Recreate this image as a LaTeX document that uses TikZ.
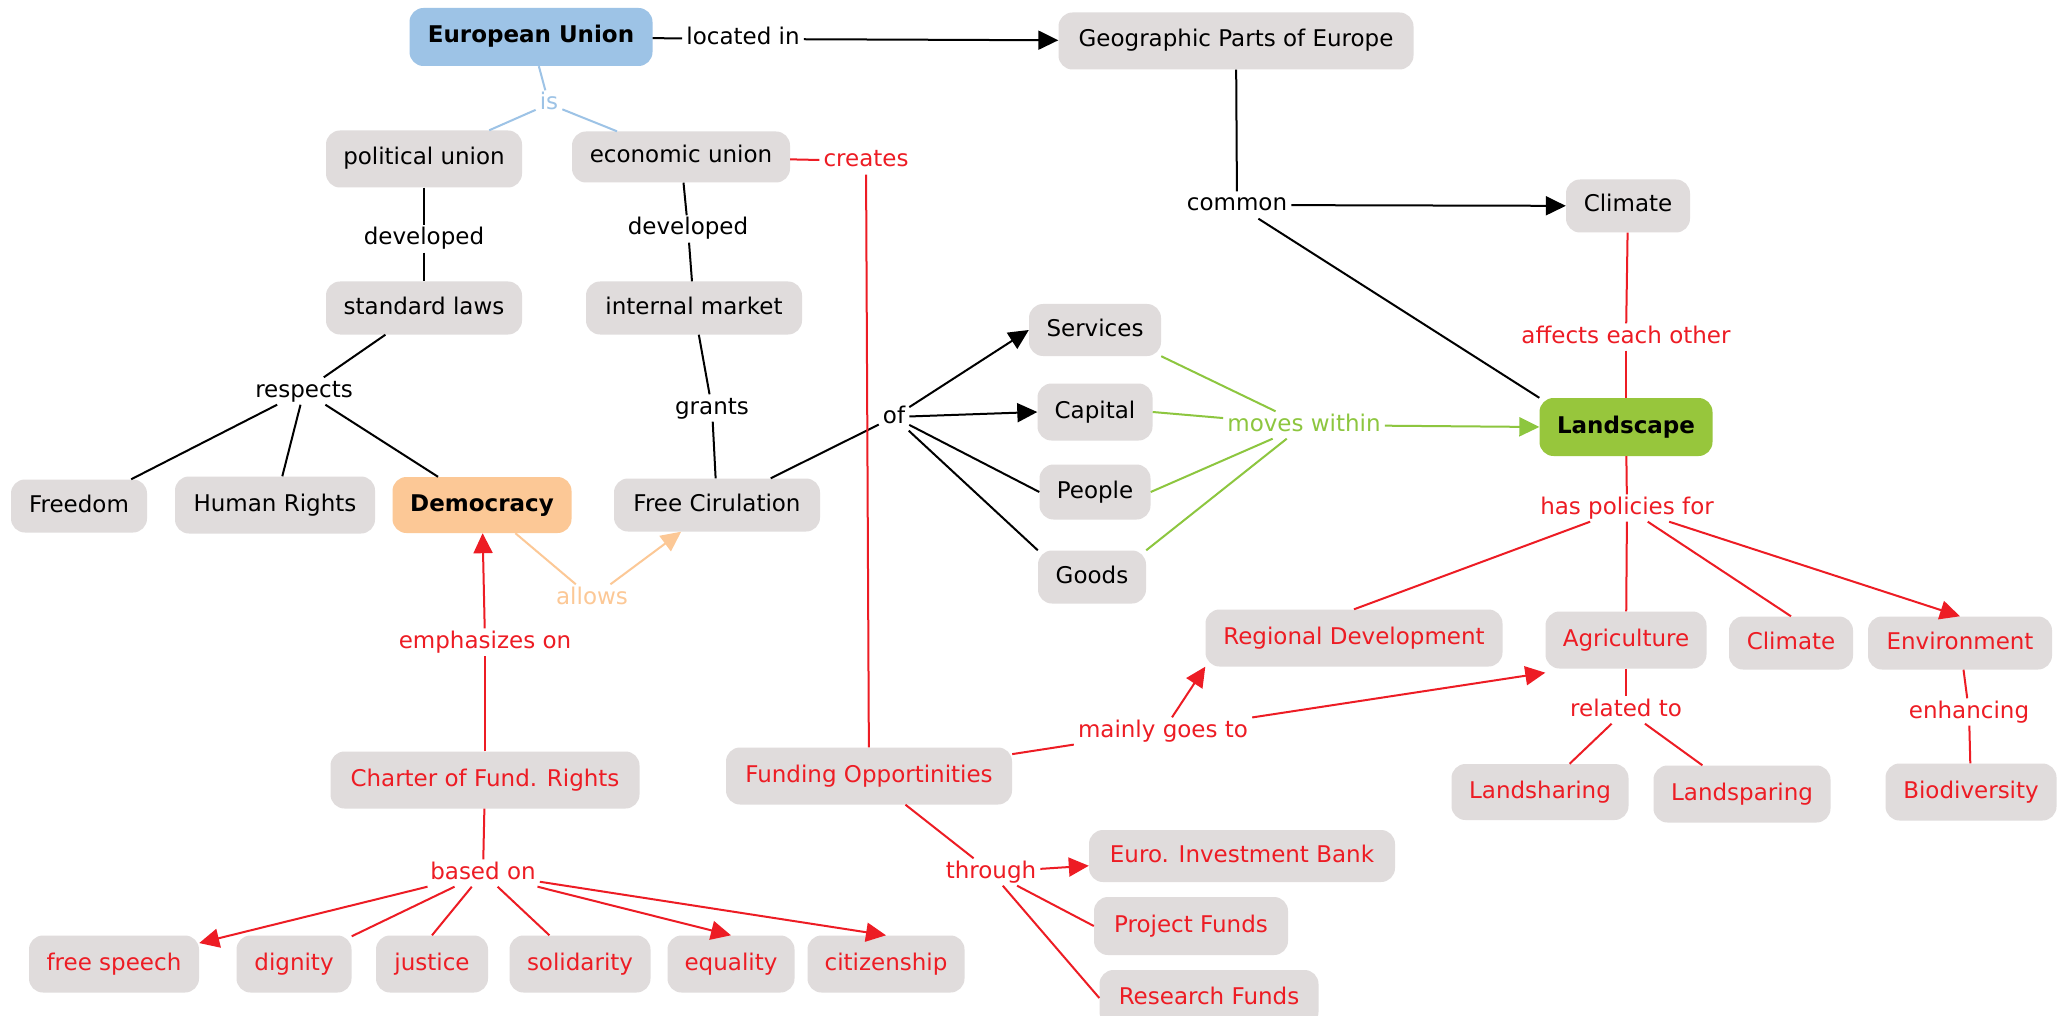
\documentclass[tikz,border=0pt]{standalone}
\usepackage{fontspec}
\setmainfont{DejaVu Sans}
\usetikzlibrary{arrows.meta}
\definecolor{cgray}{RGB}{224,220,220}
\definecolor{cblue}{RGB}{157,195,230}
\definecolor{corange}{RGB}{252,200,150}
\definecolor{cgreen}{RGB}{151,198,60}
\definecolor{lgreen}{RGB}{141,198,63}
\definecolor{cred}{RGB}{237,28,36}
\begin{document}
\begin{tikzpicture}[x=1pt,y=-1pt,
  every node/.style={font=\fontsize{23pt}{27pt}\selectfont, text height=17.5pt, text depth=5.5pt},
  concept/.style={rounded corners=14pt, fill=cgray, inner sep=0pt},
  bold/.style={font=\fontsize{23pt}{27pt}\selectfont\bfseries},
  lbl/.style={inner xsep=4pt, inner ysep=2pt},
  conn/.style={line width=2pt},
  tip/.style={-{Triangle[length=20pt,width=19pt]}},
  redc/.style={conn, draw=cred},
  blkc/.style={conn, draw=black},
]
\fill[white] (0,0) rectangle (2069,1016);
\useasboundingbox (0,0) rectangle (2069,1016);

% ---------- concepts ----------
\node[concept, bold, fill=cblue, minimum width=243pt, minimum height=58pt] (eu) at (531,37) {European Union};
\node[concept, minimum width=355pt, minimum height=57pt] (geo) at (1236,41) {Geographic Parts of Europe};
\node[concept, minimum width=196pt, minimum height=57pt] (pol) at (424,159) {political union};
\node[concept, minimum width=218pt, minimum height=51pt] (eco) at (681,157) {economic union};
\node[concept, minimum width=196pt, minimum height=53pt] (std) at (424,308) {standard laws};
\node[concept, minimum width=216pt, minimum height=53pt] (imk) at (694,308) {internal market};
\node[concept, minimum width=136pt, minimum height=53pt] (free) at (79,506) {Freedom};
\node[concept, minimum width=200pt, minimum height=57pt] (hr) at (275,505) {Human Rights};
\node[concept, bold, fill=corange, minimum width=179pt, minimum height=56pt] (dem) at (482,505) {Democracy};
\node[concept, minimum width=206pt, minimum height=53pt] (fc) at (717,505) {Free Cirulation};
\node[concept, minimum width=132pt, minimum height=52pt] (serv) at (1095,330) {Services};
\node[concept, minimum width=115pt, minimum height=57pt] (cap) at (1095,412) {Capital};
\node[concept, minimum width=111pt, minimum height=55pt] (peo) at (1095,492) {People};
\node[concept, minimum width=108pt, minimum height=53pt] (goods) at (1092,577) {Goods};
\node[concept, minimum width=124pt, minimum height=53pt] (clim) at (1628,206) {Climate};
\node[concept, bold, fill=cgreen, minimum width=173pt, minimum height=58pt] (land) at (1626,427) {Landscape};
\node[concept, text=cred, minimum width=297pt, minimum height=57pt] (reg) at (1354,638) {Regional Development};
\node[concept, text=cred, minimum width=161pt, minimum height=57pt] (agri) at (1626,640) {Agriculture};
\node[concept, text=cred, minimum width=124pt, minimum height=53pt] (clim2) at (1791,643) {Climate};
\node[concept, text=cred, minimum width=184pt, minimum height=53pt] (env) at (1960,643) {Environment};
\node[concept, text=cred, minimum width=177pt, minimum height=56pt] (lshar) at (1540,792) {Landsharing};
\node[concept, text=cred, minimum width=177pt, minimum height=57pt] (lspar) at (1742,794) {Landsparing};
\node[concept, text=cred, minimum width=171pt, minimum height=57pt] (bio) at (1971,792) {Biodiversity};
\node[concept, text=cred, minimum width=309pt, minimum height=57pt] (charter) at (485,780) {Charter of Fund. Rights};
\node[concept, text=cred, minimum width=286pt, minimum height=57pt] (fund) at (869,776) {Funding Opportinities};
\node[concept, text=cred, minimum width=306pt, minimum height=52pt] (eib) at (1242,856) {Euro. Investment Bank};
\node[concept, text=cred, minimum width=194pt, minimum height=58pt] (pf) at (1191,926) {Project Funds};
\node[concept, text=cred, minimum width=219pt, minimum height=56pt] (rf) at (1209,998) {Research Funds};
\node[concept, text=cred, minimum width=170pt, minimum height=57pt] (fs) at (114,964) {free speech};
\node[concept, text=cred, minimum width=115pt, minimum height=57pt] (dig) at (294,964) {dignity};
\node[concept, text=cred, minimum width=112pt, minimum height=57pt] (jus) at (432,964) {justice};
\node[concept, text=cred, minimum width=141pt, minimum height=57pt] (sol) at (580,964) {solidarity};
\node[concept, text=cred, minimum width=127pt, minimum height=57pt] (eq) at (731,964) {equality};
\node[concept, text=cred, minimum width=157pt, minimum height=57pt] (cit) at (886,964) {citizenship};

% ---------- linking phrases ----------
\node[lbl] (locin) at (743,39) {located in};
\node[lbl, text=cblue] (is) at (549,104) {is};
\node[lbl, text=cred] (creates) at (866,161) {creates};
\node[lbl] (dev1) at (424,239) {developed};
\node[lbl] (dev2) at (688,229) {developed};
\node[lbl] (resp) at (304,391) {respects};
\node[lbl] (grants) at (712,408) {grants};
\node[lbl] (of) at (894,417) {of};
\node[lbl] (common) at (1237,205) {common};
\node[lbl, text=lgreen] (moves) at (1304,425) {moves within};
\node[lbl, text=cred] (affects) at (1626,337) {affects each other};
\node[lbl, text=cred] (haspol) at (1627,508) {has policies for};
\node[lbl, text=corange] (allows) at (592,598) {allows};
\node[lbl, text=cred] (emph) at (485,642) {emphasizes on};
\node[lbl, text=cred] (based) at (483,873) {based on};
\node[lbl, text=cred] (mainly) at (1163,731) {mainly goes to};
\node[lbl, text=cred] (through) at (991,872) {through};
\node[lbl, text=cred] (related) at (1626,710) {related to};
\node[lbl, text=cred] (enh) at (1969,712) {enhancing};

% ---------- connectors ----------
\draw[blkc] (eu) -- (locin);
\draw[blkc, tip] (locin) -- (geo);
\draw[conn, draw=cblue] (eu) -- (is);
\draw[conn, draw=cblue] (is) -- (pol);
\draw[conn, draw=cblue] (is) -- (eco);
\draw[blkc] (pol) -- (dev1);
\draw[blkc] (dev1) -- (std);
\draw[blkc] (eco) -- (dev2);
\draw[blkc] (dev2) -- (imk);
\draw[blkc] (std) -- (resp);
\draw[blkc] (resp) -- (free);
\draw[blkc] (resp) -- (hr);
\draw[blkc] (resp) -- (dem);
\draw[blkc] (imk) -- (grants);
\draw[blkc] (grants) -- (fc);
\draw[blkc] (fc) -- (of);
\draw[blkc, tip] (of) -- (serv.west);
\draw[blkc, tip] (of) -- (cap.west);
\draw[blkc] (of) -- (peo.west);
\draw[blkc] (of) -- (goods.north west);
\draw[conn, draw=lgreen] (serv.south east) -- (moves);
\draw[conn, draw=lgreen] (cap.east) -- (moves);
\draw[conn, draw=lgreen] (peo.east) -- (moves);
\draw[conn, draw=lgreen] (goods.north east) -- (moves);
\draw[conn, draw=lgreen, tip] (moves) -- (land.west);
\draw[blkc] (geo) -- (common);
\draw[blkc, tip] (common) -- (clim);
\draw[blkc] (common) -- (land.north west);
\draw[redc] (clim) -- (affects);
\draw[redc] (affects) -- (land);
\draw[redc] (land) -- (haspol);
\draw[redc] (haspol) -- (reg.north);
\draw[redc] (haspol) -- (agri);
\draw[redc] (haspol) -- (clim2.north);
\draw[redc, tip] (haspol) -- (env.north);
\draw[redc] (agri) -- (related);
\draw[redc] (related) -- (lshar);
\draw[redc] (related) -- (lspar);
\draw[redc] (env) -- (enh);
\draw[redc] (enh) -- (bio);
\draw[conn, draw=corange] (dem) -- (allows);
\draw[conn, draw=corange, tip] (allows) -- (fc);
\draw[redc] (charter) -- (emph);
\draw[redc, tip] (emph) -- (dem);
\draw[redc] (charter) -- (based);
\draw[redc, tip] (based) -- (fs);
\draw[redc] (based) -- (dig);
\draw[redc] (based) -- (jus.north);
\draw[redc] (based) -- (sol);
\draw[redc, tip] (based) -- (eq.north);
\draw[redc, tip] (based) -- (cit.north);
\draw[redc] (eco) -- (creates);
\draw[redc] (creates) -- (fund);
\draw[redc] (fund) -- (mainly);
\draw[redc, tip] (mainly) -- (reg.south west);
\draw[redc, tip] (mainly) -- ([yshift=-4pt]agri.south west);
\draw[redc] (fund) -- (through);
\draw[redc, tip] (through) -- (eib);
\draw[redc] (through) -- (pf.west);
\draw[redc] (through) -- (rf.west);
\end{tikzpicture}
\end{document}
